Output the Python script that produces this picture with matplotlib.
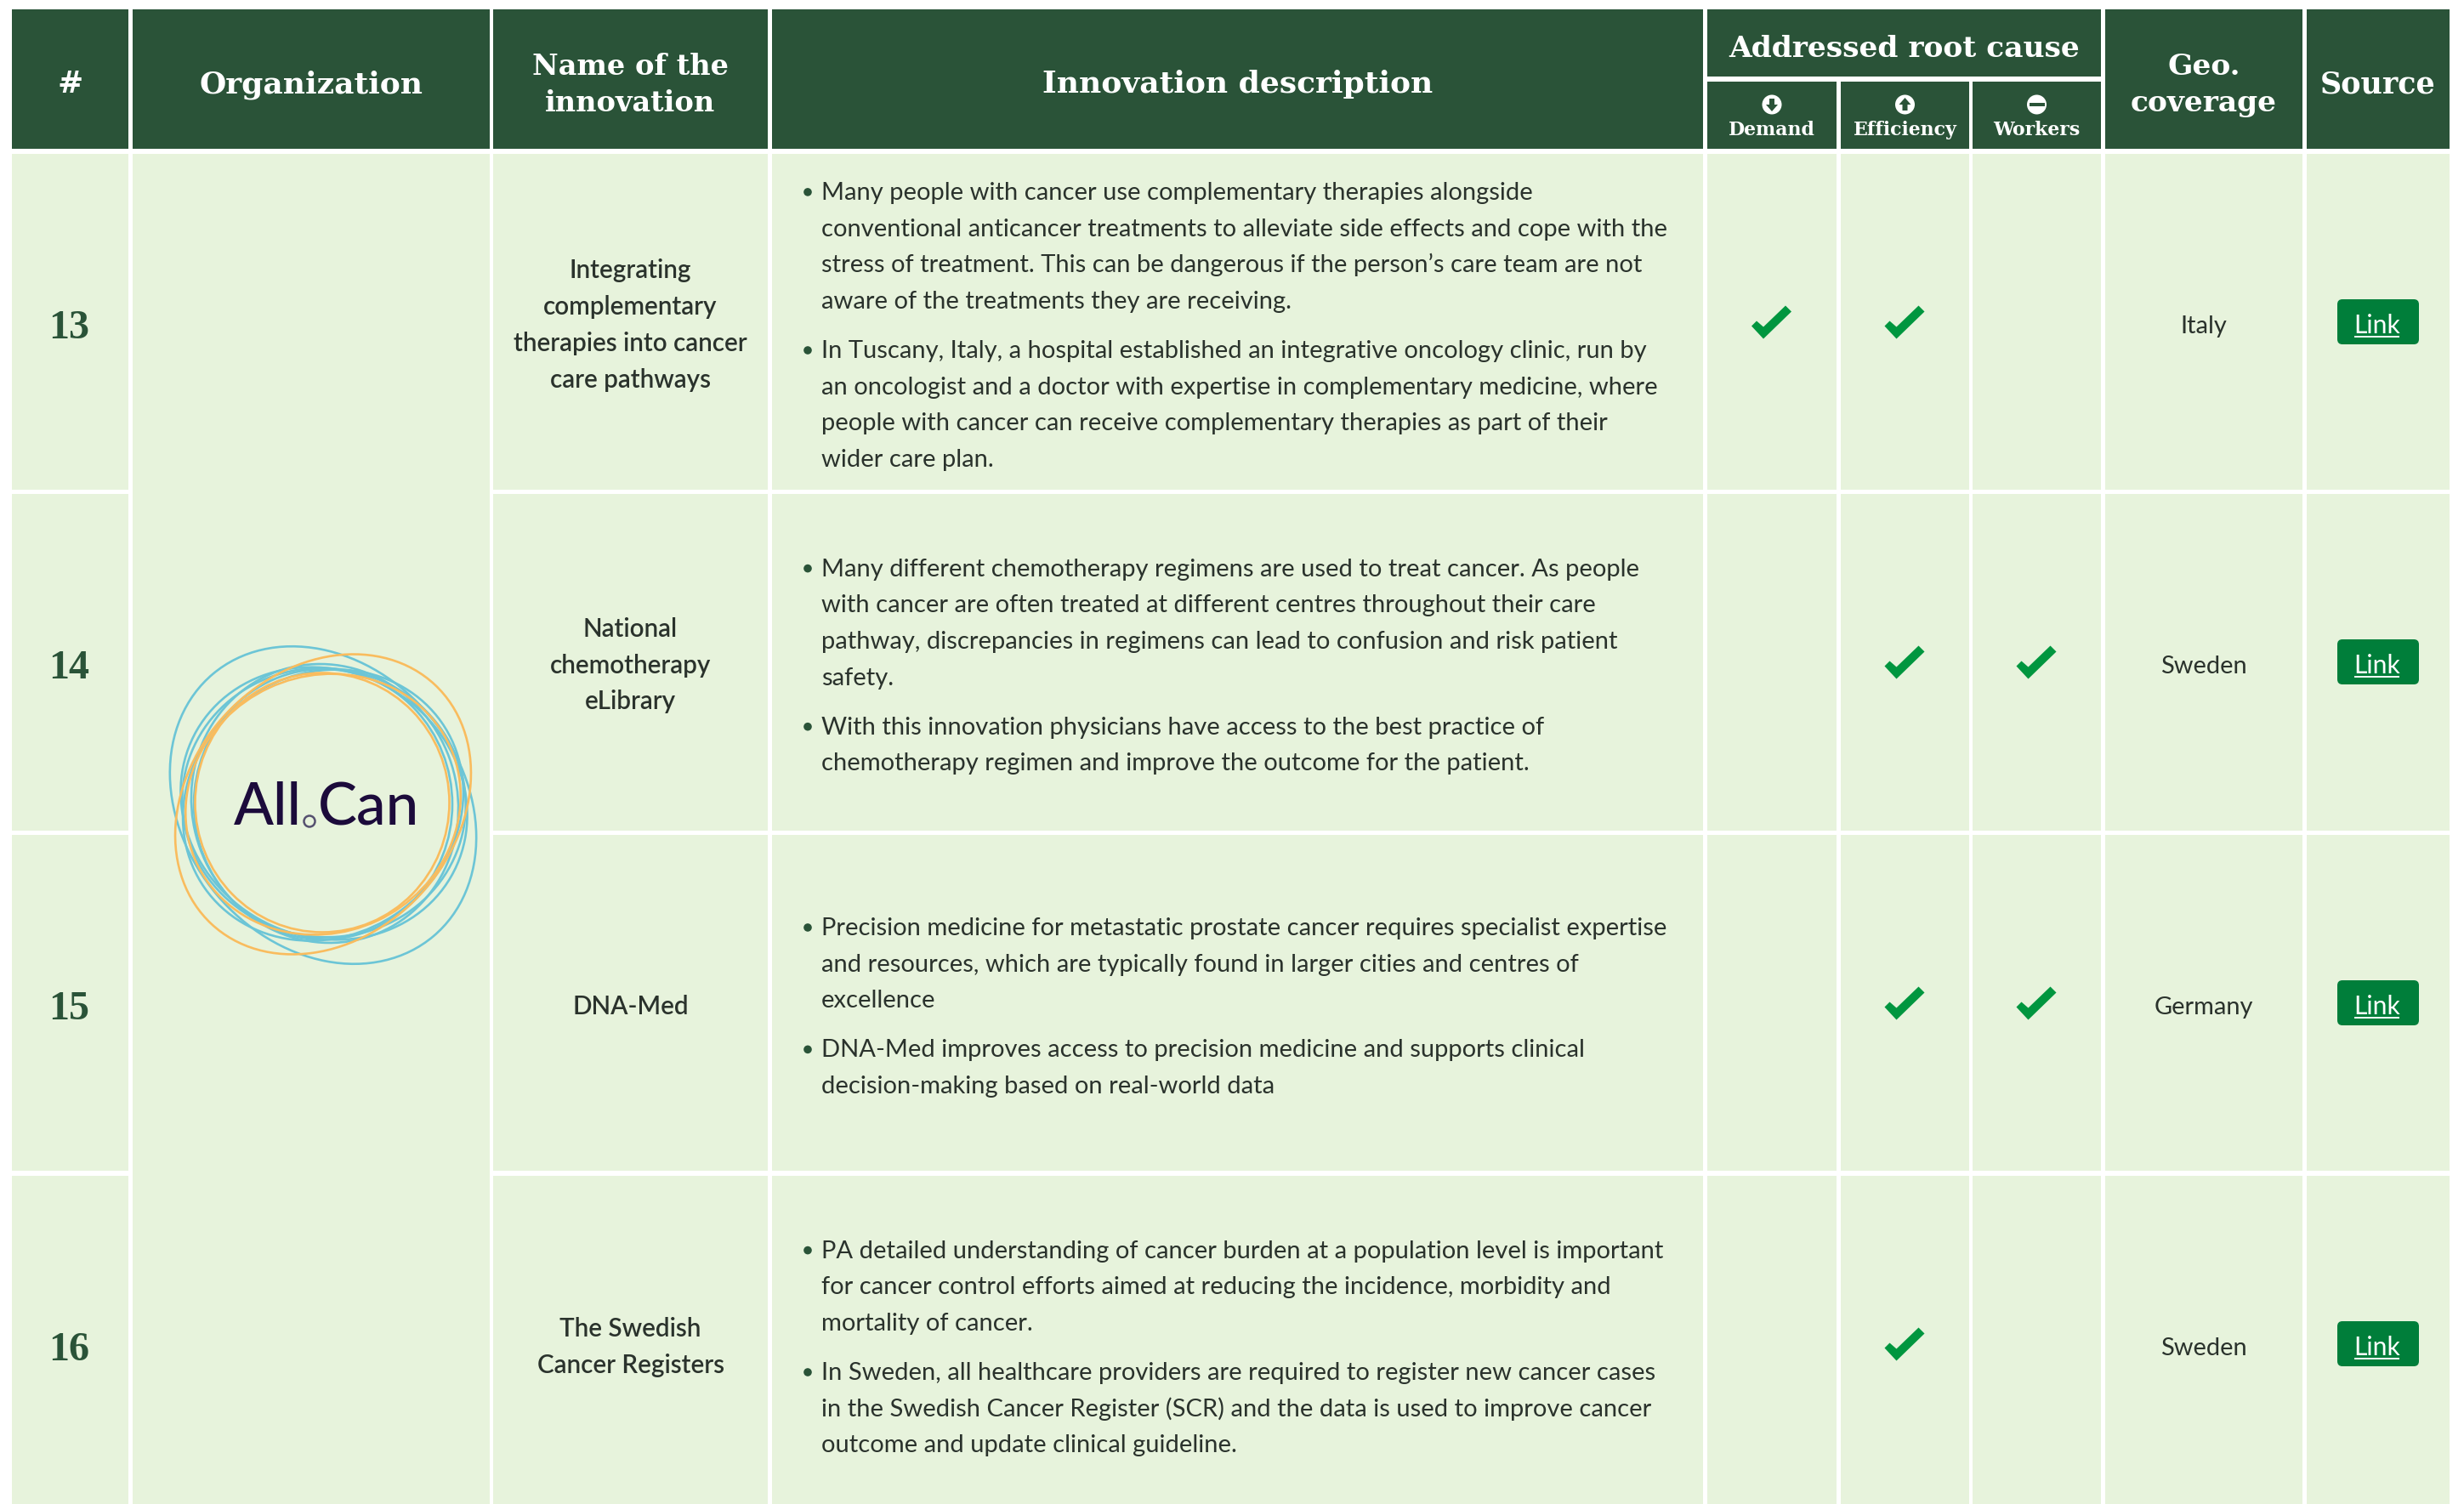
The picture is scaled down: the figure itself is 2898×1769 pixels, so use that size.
import matplotlib
matplotlib.use('Agg')
import matplotlib.pyplot as plt
from matplotlib.patches import Rectangle, Ellipse, Circle, Polygon, FancyBboxPatch

# Colours
HEADER = '#2A5338'
ROW_BG = '#E7F3DC'
TXT = '#2A322C'
CHECK = '#00963F'
BTN = '#007E3A'
BLUE = '#6CC5D6'
ORANGE = '#F9BC5E'
LOGO_TXT = '#1C0B3B'
BODY_FONT = 'Lato'
HEAD_FONT = 'DejaVu Serif'

# Table content
numbers = ['13', '14', '15', '16']
names = [
    ['Integrating', 'complementary', 'therapies into cancer', 'care pathways'],
    ['National', 'chemotherapy', 'eLibrary'],
    ['DNA-Med'],
    ['The Swedish', 'Cancer Registers'],
]
descriptions = [
    [['Many people with cancer use complementary therapies alongside',
      'conventional anticancer treatments to alleviate side effects and cope with the',
      'stress of treatment. This can be dangerous if the person’s care team are not',
      'aware of the treatments they are receiving.'],
     ['In Tuscany, Italy, a hospital established an integrative oncology clinic, run by',
      'an oncologist and a doctor with expertise in complementary medicine, where',
      'people with cancer can receive complementary therapies as part of their',
      'wider care plan.']],
    [['Many different chemotherapy regimens are used to treat cancer. As people',
      'with cancer are often treated at different centres throughout their care',
      'pathway, discrepancies in regimens can lead to confusion and risk patient',
      'safety.'],
     ['With this innovation physicians have access to the best practice of',
      'chemotherapy regimen and improve the outcome for the patient.']],
    [['Precision medicine for metastatic prostate cancer requires specialist expertise',
      'and resources, which are typically found in larger cities and centres of',
      'excellence'],
     ['DNA-Med improves access to precision medicine and supports clinical',
      'decision-making based on real-world data']],
    [['PA detailed understanding of cancer burden at a population level is important',
      'for cancer control efforts aimed at reducing the incidence, morbidity and',
      'mortality of cancer.'],
     ['In Sweden, all healthcare providers are required to register new cancer cases',
      'in the Swedish Cancer Register (SCR) and the data is used to improve cancer',
      'outcome and update clinical guideline.']],
]
demand = [1, 0, 0, 0]
efficiency = [1, 1, 1, 1]
workers = [0, 1, 1, 0]
coverage = ['Italy', 'Sweden', 'Germany', 'Sweden']
sub_headers = ['Demand', 'Efficiency', 'Workers']

# Grid in pixels
col_left = [14, 156, 580, 908, 2008, 2165, 2320, 2476, 2713]
col_right = [151, 576, 903, 2003, 2160, 2316, 2471, 2708, 2881]
row_top = [181, 581, 982, 1383]
row_bottom = [576, 977, 1377, 1769]
row_mid = [t + 197.5 for t in row_top]
col_mid = [(a + b) / 2 for a, b in zip(col_left, col_right)]

# Logo ellipses: cx, cy, width, height, angle (pixels)
logo_blue = [
    (380, 947, 403, 327, 50), (380, 946, 304, 318, 0), (381, 945, 345, 312, 30),
    (380, 947, 340, 308, -35), (382, 945, 330, 312, 70), (381, 944, 334, 316, 10),
]
logo_orange = [
    (380, 946, 385, 312, -47), (379, 944, 299, 305, 0), (380, 946, 328, 302, -25),
]

# Check mark and icon outlines, offsets from the cell centre
check_shape = [(-24, 5), (-18, -1), (-10, 6), (16, -19), (23, -12), (-10, 20)]
arrow_down = [(-3, -7), (3, -7), (3, 0), (7, 0), (0, 8), (-7, 0), (-3, 0)]
arrow_up = [(-3, 7), (3, 7), (3, 0), (7, 0), (0, -8), (-7, 0), (-3, 0)]


def px(size):
    return size * 0.72


fig = plt.figure(figsize=(28.98, 17.69), dpi=100)
ax = fig.add_axes([0, 0, 1, 1])
ax.set_xlim(0, 2898)
ax.set_ylim(1769, 0)
ax.axis('off')


def rect(x0, y0, x1, y1, color):
    ax.add_patch(Rectangle((x0, y0), x1 - x0, y1 - y0, facecolor=color, edgecolor='none'))


def head(x, y, s, size=36):
    ax.text(x, y, s, family=HEAD_FONT, weight='bold', color='white', fontsize=px(size),
            ha='center', va='baseline')


# Header cells
for i in [0, 1, 2, 3, 7, 8]:
    rect(col_left[i], 11, col_right[i], 175, HEADER)
rect(2008, 11, 2471, 90, HEADER)
for i in [4, 5, 6]:
    rect(col_left[i], 96, col_right[i], 175, HEADER)

head(col_mid[0], 109, '#')
head(col_mid[1], 109, 'Organization')
head(col_mid[2], 88, 'Name of the', size=33.6)
head(col_mid[2], 131, 'innovation', size=33.6)
head(col_mid[3], 109, 'Innovation description')
head(2239.5, 67, 'Addressed root cause', size=34.5)
head(col_mid[7], 88, 'Geo.', size=34.5)
head(col_mid[7], 131, 'coverage', size=34.5)
head(col_mid[8], 109, 'Source', size=35)
for i, s in enumerate(sub_headers):
    head(col_mid[4 + i], 159, s, size=22)

# Root cause icons
for i in [4, 5, 6]:
    ax.add_patch(Circle((col_mid[i], 123), 11.5, facecolor='white', edgecolor='none'))
ax.add_patch(Polygon([(col_mid[4] + a, 123 + b) for a, b in arrow_down], facecolor=HEADER))
ax.add_patch(Polygon([(col_mid[5] + a, 123 + b) for a, b in arrow_up], facecolor=HEADER))
rect(col_mid[6] - 9, 121, col_mid[6] + 9, 125, HEADER)

# Body cells, the organization cell spans all four rows
rect(col_left[1], 181, col_right[1], 1769, ROW_BG)
for r in range(4):
    for c in [0, 2, 3, 4, 5, 6, 7, 8]:
        rect(col_left[c], row_top[r], col_right[c], row_bottom[r], ROW_BG)

for r in range(4):
    mid = row_mid[r]
    ax.text(col_mid[0] - 1, mid + 19, numbers[r], family='Liberation Serif', weight='bold',
            color=HEADER, fontsize=px(48), ha='center', va='baseline')

    # name of the innovation
    lines = names[r]
    base = mid + 13 - 42.7 * (len(lines) - 1) / 2
    for i, s in enumerate(lines):
        ax.text(col_mid[2], base + i * 42.7, s, family=BODY_FONT, weight=600, color=TXT,
                fontsize=px(29.6), ha='center', va='baseline')

    # description bullets
    n = sum(len(p) for p in descriptions[r])
    y = mid + 13.5 - (42.7 * (n - 2) + 58) / 2
    for para in descriptions[r]:
        ax.add_patch(Circle((950, y - 9), 4.8, facecolor=HEADER, edgecolor='none'))
        for s in para:
            ax.text(966, y, s, family=BODY_FONT, color=TXT, fontsize=px(29.1), va='baseline')
            y += 42.7
        y += 58 - 42.7

    # check marks
    for c, flags in zip([4, 5, 6], [demand, efficiency, workers]):
        if flags[r]:
            ax.add_patch(Polygon([(col_mid[c] + a, mid + b) for a, b in check_shape],
                                 facecolor=CHECK, edgecolor='none'))

    ax.text(col_mid[7], mid + 13, coverage[r], family=BODY_FONT, color=TXT,
            fontsize=px(29), ha='center', va='baseline')

    # link button
    ax.add_patch(FancyBboxPatch((2753, mid - 22.5), 88, 45, boxstyle='round,pad=4,rounding_size=6',
                                facecolor=BTN, edgecolor='none'))
    ax.text(2796, mid + 13, 'Link', family=BODY_FONT, color='white', fontsize=px(30),
            ha='center', va='baseline')
    ax.plot([2769, 2822], [mid + 17.5, mid + 17.5], color='white', lw=1.4, solid_capstyle='butt')

# Logo
for cx, cy, w, h, ang in logo_blue:
    ax.add_patch(Ellipse((cx, cy), w, h, angle=ang, fill=False, edgecolor=BLUE, lw=1.9))
for cx, cy, w, h, ang in logo_orange:
    ax.add_patch(Ellipse((cx, cy), w, h, angle=ang, fill=False, edgecolor=ORANGE, lw=1.9))
ax.text(275, 970, 'All', family=BODY_FONT, weight='medium', color=LOGO_TXT, fontsize=px(69), va='baseline')
ax.text(374, 970, 'Can', family=BODY_FONT, weight='medium', color=LOGO_TXT, fontsize=px(69), va='baseline')
ax.add_patch(Circle((364, 966), 6.5, fill=False, edgecolor='#55506F', lw=1.8))

fig.savefig('out.png', dpi=100, facecolor='white')
